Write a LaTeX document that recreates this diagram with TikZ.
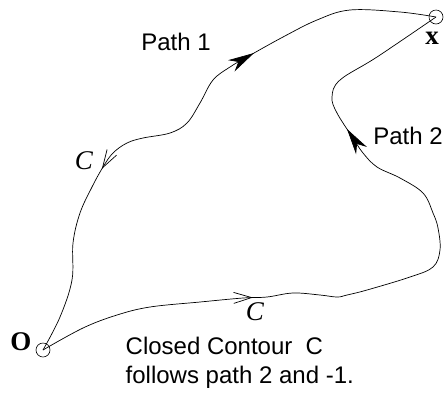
\documentclass[tikz,border=0pt]{standalone}
\usepackage{fontspec}
\setmainfont{Liberation Serif}
\newfontfamily\helv{Liberation Sans}
\usetikzlibrary{arrows.meta,decorations.markings}
\tikzset{
  fulltip/.tip={Stealth[length=26pt,width=13pt,inset=8pt]},
  opentip/.tip={Straight Barb[length=18pt,width=11pt]}}

\begin{document}
\begin{tikzpicture}[x=1pt,y=-1pt,>=Stealth,line width=0.7pt,
  endpt/.style={circle,draw,line width=0.6pt,minimum size=14pt,inner sep=0pt},
  lbl/.style={font=\helv\fontsize{24}{28}\selectfont},
  bsym/.style={font=\bfseries\fontsize{27}{30}\selectfont},
  isym/.style={font=\itshape\fontsize{27}{30}\selectfont}]
\useasboundingbox (0,0) rectangle (444,392);
% end points
\node[endpt] (O) at (43,350) {};
\node[endpt] (X) at (436,17) {};
\node[bsym] (Olbl) at (21,342) {O};
\node[bsym] (Xlbl) at (432,38) {x};
% path 1
\draw[postaction={decorate,decoration={markings,
    mark=at position 0.33 with {\arrowreversed{opentip}},
    mark=at position 0.672 with {\arrow{fulltip}}}}]
  plot[smooth,tension=0.6] coordinates {(O.center) (60,317) (72,280) (73,243) (80,213) (92,187) (103,167) (113,153) (127,143) (143,138) (170,133) (187,123) (200,103) (213,80) (230,67) (247,57) (283,37) (317,20) (350,10) (400,12) (X.center)};
% path 2
\draw[postaction={decorate,decoration={markings,
    mark=at position 0.29 with {\arrow{opentip}},
    mark=at position 0.775 with {\arrow{fulltip}}}}]
  plot[smooth,tension=0.6] coordinates {(O.center) (83,328) (117,315) (150,307) (200,302) (243,298) (267,297) (293,293) (320,295) (337,297) (347,295) (367,290) (410,277) (433,267) (440,250) (438,228) (433,213) (423,193) (400,178) (377,167) (363,153) (353,138) (337,113) (332,97) (340,80) (377,57) (X.center)};
% labels
\node[lbl] (p1) at (176,42) {Path 1};
\node[lbl] (p2) at (408,136) {Path 2};
\node[isym] (c1) at (84,161) {C};
\node[isym] (c2) at (255,312) {C};
\node[lbl,anchor=west] (cap1) at (122,346) {Closed Contour\ \ C};
\node[lbl,anchor=west] (cap2) at (122,377) {follows path 2 and -1.};
\end{tikzpicture}
\end{document}
